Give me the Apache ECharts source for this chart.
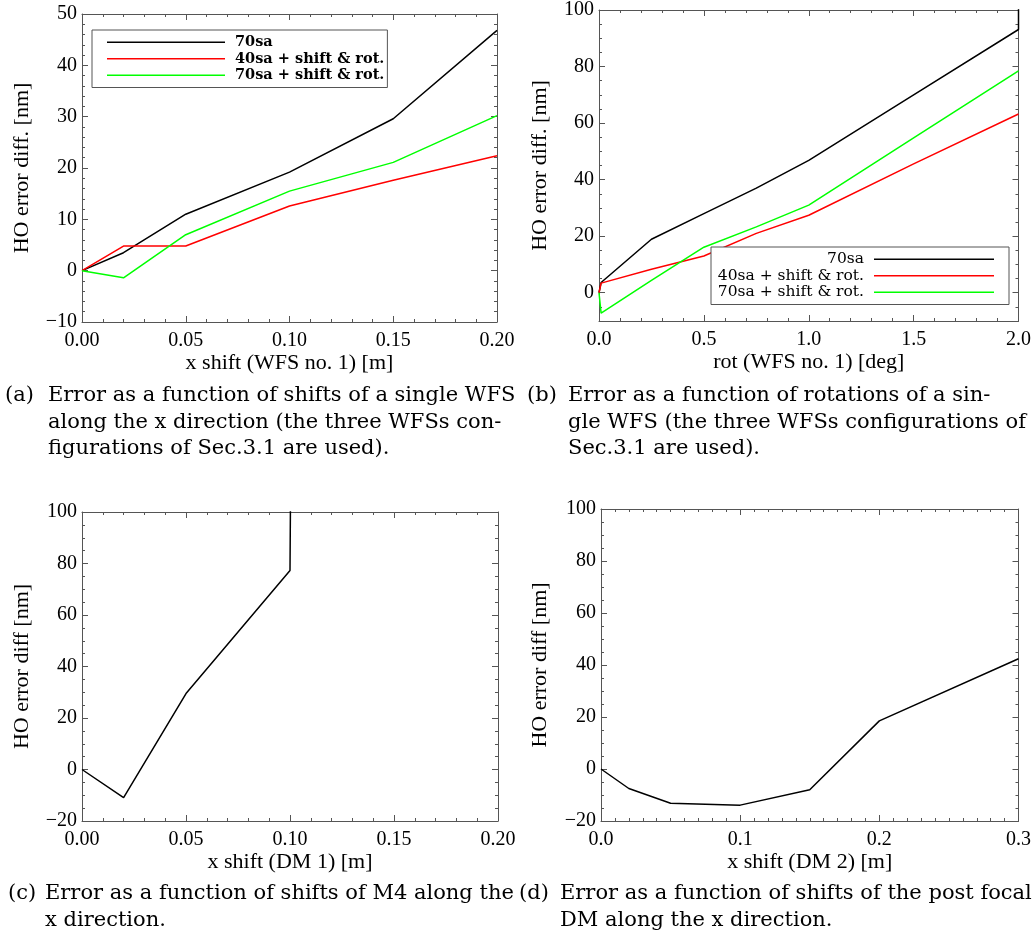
<!DOCTYPE html>
<html><head><meta charset="utf-8">
<script src="https://cdn.jsdelivr.net/npm/echarts@6/dist/echarts.min.js"></script>
<style>html,body{margin:0;padding:0;background:#fff}#c{width:1034px;height:942px}</style>
</head><body><div id="c"></div><script>
// ---- data ----
const seriesNames = ['70sa', '40sa + shift & rot.', '70sa + shift & rot.'];
// (a) x shift WFS no. 1
const aX = [0, 0.02, 0.05, 0.10, 0.15, 0.20];
const a70sa = [0, 3.5, 11.0, 19.2, 29.6, 46.8];
const a40sa = [0, 4.8, 4.8, 12.6, 17.6, 22.4];
const a70sr = [0, -1.4, 7.0, 15.5, 21.1, 30.2];
// (b) rot WFS no. 1
const bX = [0, 0.01, 0.25, 0.5, 0.75, 1.0, 1.5, 2.0, 2.0];
const b70sa = [0, 3.6, 18.9, 28.0, 37.0, 46.8, 70.0, 93.1, 110];
const b40sa = [0, 3.4, 8.3, 13.0, 21.0, 27.4, 45.6, 63.2];
const b70sr = [0, -7.2, 4.4, 16.1, 23.3, 31.0, 54.8, 78.5];
// (c) x shift DM 1
const cX = [0, 0.02, 0.05, 0.10, 0.15];
const cDM1 = [0, -10.9, 29.5, 77.3, 6000];
// (d) x shift DM 2
const dX = [0, 0.02, 0.05, 0.10, 0.15, 0.20, 0.30];
const dDM2 = [0, -7.5, -13.2, -13.9, -8.0, 18.5, 42.4];
// tick labels
const aXLabels = ['0.00', '0.05', '0.10', '0.15', '0.20'];
const aYLabels = ['\u221210', '0', '10', '20', '30', '40', '50'];
const bXLabels = ['0.0', '0.5', '1.0', '1.5', '2.0'];
const bYLabels = ['0', '20', '40', '60', '80', '100'];
const cXLabels = ['0.00', '0.05', '0.10', '0.15', '0.20'];
const cYLabels = ['\u221220', '0', '20', '40', '60', '80', '100'];
const dXLabels = ['0.0', '0.1', '0.2', '0.3'];
const dYLabels = ['\u221220', '0', '20', '40', '60', '80', '100'];
// captions
const captions = [
  {x: 5, y: 395, t: '(a)'}, {x: 48, y: 395, t: 'Error as a function of shifts of a single WFS'},
  {x: 48, y: 422, t: 'along the x direction (the three WFSs con-'},
  {x: 48, y: 448, t: 'figurations of Sec.3.1 are used).'},
  {x: 527, y: 395, t: '(b)'}, {x: 568, y: 395, t: 'Error as a function of rotations of a sin-'},
  {x: 568, y: 422, t: 'gle WFS (the three WFSs configurations of'},
  {x: 568, y: 448, t: 'Sec.3.1 are used).'},
  {x: 8, y: 893, t: '(c)'}, {x: 45, y: 893, t: 'Error as a function of shifts of M4 along the'},
  {x: 45, y: 920, t: 'x direction.'},
  {x: 519, y: 893, t: '(d)'}, {x: 560, y: 893, t: 'Error as a function of shifts of the post focal'},
  {x: 560, y: 920, t: 'DM along the x direction.'}
];

// ---- helpers ----
const SERIF = '"Liberation Serif", serif';
const FRAME = '#555';
function lookup(labels) {
  return function (v) {
    for (const l of labels) {
      if (Math.abs(parseFloat(l.replace('\u2212', '-')) - v) < 1e-9) return l;
    }
    return '';
  };
}
function pairs(xs, ys) { return ys.map((y, i) => [xs[i], y]); }
const nameStyle = {fontFamily: SERIF, fontSize: 22, color: '#000'};
function axisPair(kind, gi, min, max, interval, minorSplit, labels, name, nameGap) {
  const common = {
    gridIndex: gi, type: 'value', min: min, max: max, interval: interval,
    axisLine: {show: true, onZero: false, lineStyle: {color: FRAME, width: 1}},
    axisTick: {show: true, inside: true, length: 6, lineStyle: {color: FRAME, width: 1}},
    minorTick: {show: true, splitNumber: minorSplit, length: 3, lineStyle: {color: FRAME, width: 1}},
    splitLine: {show: false}, minorSplitLine: {show: false}
  };
  if (interval === undefined) { delete common.interval; common.splitNumber = 5; }
  const main = Object.assign({}, common, {
    position: kind === 'x' ? 'bottom' : 'left',
    axisLabel: {show: true, margin: kind === 'x' ? 9 : 5, formatter: lookup(labels), color: '#000',
      fontFamily: SERIF, fontSize: 20, hideOverlap: false},
    name: name, nameLocation: 'middle', nameGap: nameGap, nameTextStyle: nameStyle
  });
  const other = Object.assign({}, common, {
    position: kind === 'x' ? 'top' : 'right',
    axisLabel: {show: false}
  });
  return [main, other];
}
const grids = [
  {left: 82, top: 14, width: 415, height: 308},
  {left: 599, top: 9, width: 420, height: 312},
  {left: 82, top: 512, width: 416, height: 309},
  {left: 601, top: 509, width: 419, height: 312}
];
const xAxis = [].concat(
  axisPair('x', 0, 0, 0.2, 0.05, 5, aXLabels, 'x shift (WFS no. 1) [m]', 30),
  axisPair('x', 1, 0, 2.0, 0.5, 5, bXLabels, 'rot (WFS no. 1) [deg]', 30),
  axisPair('x', 2, 0, 0.2, 0.05, 5, cXLabels, 'x shift (DM 1) [m]', 30),
  axisPair('x', 3, 0, 0.3, 0.1, 10, dXLabels, 'x shift (DM 2) [m]', 30)
);
const yAxis = [].concat(
  axisPair('y', 0, -10, 50, 10, 5, aYLabels, 'HO error diff. [nm]', 49),
  axisPair('y', 1, -10, 100, undefined, 4, bYLabels, 'HO error diff. [nm]', 48),
  axisPair('y', 2, -20, 100, 20, 4, cYLabels, 'HO error diff [nm]', 49),
  axisPair('y', 3, -20, 100, 20, 4, dYLabels, 'HO error diff [nm]', 50)
);
function line(name, gi, data, color) {
  return {type: 'line', name: name, xAxisIndex: gi * 2, yAxisIndex: gi * 2, data: data,
    symbol: 'none', showSymbol: false, clip: true, animation: false,
    lineStyle: {color: color, width: 1.5}, itemStyle: {color: color}};
}
const series = [
  line(seriesNames[0], 0, pairs(aX, a70sa), '#000000'),
  line(seriesNames[1], 0, pairs(aX, a40sa), '#ff0000'),
  line(seriesNames[2], 0, pairs(aX, a70sr), '#00ff00'),
  line(seriesNames[0], 1, pairs(bX, b70sa), '#000000'),
  line(seriesNames[1], 1, pairs(bX, b40sa), '#ff0000'),
  line(seriesNames[2], 1, pairs(bX, b70sr), '#00ff00'),
  line('DM 1', 2, pairs(cX, cDM1), '#000000'),
  line('DM 2', 3, pairs(dX, dDM2), '#000000')
];
const legend = [
  {data: seriesNames, left: 92, top: 30, orient: 'vertical', icon: 'rect', itemWidth: 118, itemHeight: 1.5,
    itemGap: 0, padding: [4, 3, 4, 15], borderColor: FRAME, borderWidth: 1, backgroundColor: '#fff',
    selectedMode: false,
    textStyle: {fontFamily: '"DejaVu Serif", serif', fontSize: 14.5, fontWeight: 'bold', color: '#000',
      lineHeight: 16.5, padding: [0, 0, 0, 5]}},
  {data: seriesNames, left: 711, top: 247, orient: 'vertical', align: 'right', icon: 'rect', itemWidth: 120,
    itemHeight: 1.5, itemGap: 0, padding: [4, 15, 4, 6], borderColor: FRAME, borderWidth: 1,
    backgroundColor: '#fff', selectedMode: false,
    textStyle: {fontFamily: '"DejaVu Serif", serif', fontSize: 15.5, color: '#000', lineHeight: 16.5,
      width: 147, align: 'right', padding: [0, 5, 0, 0]}}
];
const capFont = '21px "DejaVu Serif"';
const graphic = captions.map(c => ({
  type: 'text', left: c.x, top: c.y - 10,
  style: {text: c.t, font: capFont, fill: '#000'}
}));

const chart = echarts.init(document.getElementById('c'), null, {renderer: 'canvas'});
chart.setOption({
  animation: false,
  backgroundColor: '#fff',
  grid: grids,
  xAxis: xAxis,
  yAxis: yAxis,
  legend: legend,
  series: series,
  graphic: graphic
});
</script></body></html>
